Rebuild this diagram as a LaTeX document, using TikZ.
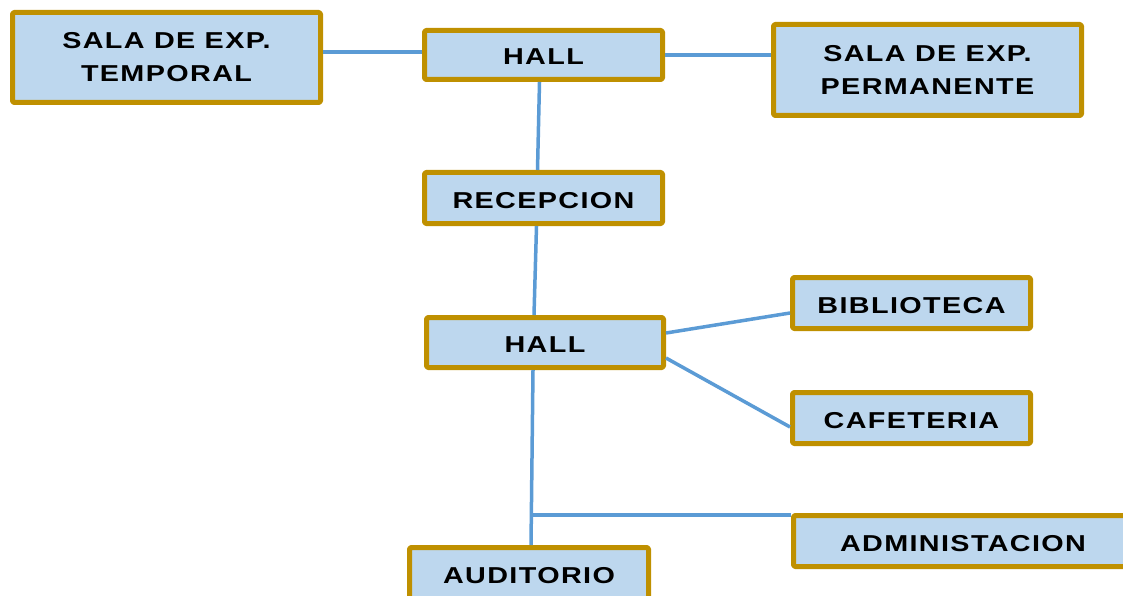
\documentclass[tikz,border=0pt]{standalone}
\usepackage{fontspec}
\newfontfamily\roomfont[FakeStretch=1.25,LetterSpace=6]{Liberation Sans}
\definecolor{roomfill}{HTML}{BDD7EE}
\definecolor{roomedge}{HTML}{BF9000}
\definecolor{linkblue}{HTML}{5B9BD5}
\tikzset{
  room/.style={draw=roomedge,fill=roomfill,line width=5pt,rounded corners=1.5pt,
    inner sep=0pt,align=center,text=black,
    font=\roomfont\bfseries\fontsize{23}{33}\selectfont},
  oneline/.style={room,text height=20pt,text depth=0pt},
  link/.style={draw=linkblue,line width=3.5pt}
}
\begin{document}
\begin{tikzpicture}[x=1pt,y=-1pt,line cap=butt,line join=round]
\useasboundingbox (0,0) rectangle (1123,596);

% rooms
\node[room,minimum width=308pt,minimum height=90pt] (temporal) at (166.5,57.5) {SALA DE EXP.\\TEMPORAL};
\node[oneline,minimum width=238pt,minimum height=49pt] (hallA) at (543.5,55) {HALL};
\node[room,minimum width=308pt,minimum height=91pt] (permanente) at (927.5,70) {SALA DE EXP.\\PERMANENTE};
\node[oneline,minimum width=238pt,minimum height=51pt] (recepcion) at (543.5,198) {RECEPCION};
\node[oneline,minimum width=237pt,minimum height=50pt] (hallB) at (545,342.5) {HALL};
\node[oneline,minimum width=238pt,minimum height=51pt] (biblioteca) at (911.5,303) {BIBLIOTECA};
\node[oneline,minimum width=238pt,minimum height=51pt] (cafeteria) at (911.5,418) {CAFETERIA};
\node[oneline,minimum width=339pt,minimum height=51pt] (admin) at (963,541) {ADMINISTACION};
\node[oneline,minimum width=239pt,minimum height=51pt] (auditorio) at (529,573) {AUDITORIO};

% connections
\draw[link] ([yshift=3pt]temporal.east |- hallA.west) -- ([yshift=3pt]hallA.west);
\draw[link] (hallA.east) -- (permanente.west |- hallA.east);
\draw[link] ([xshift=-4pt]hallA.south) -- ([xshift=-6pt]recepcion.north);
\draw[link] ([xshift=-7pt]recepcion.south) -- ([xshift=-11pt]hallB.north);
\draw[link] ([yshift=9.5pt]hallB.east) -- ([yshift=-10pt]biblioteca.west);
\draw[link] ([yshift=-15.5pt]hallB.east) -- ([yshift=-9pt]cafeteria.west);
\draw[link] ([xshift=-12pt]hallB.south) -- ([xshift=2pt]auditorio.north);

% branch to the administration
\coordinate (branch) at (532,515);
\draw[link] (branch) -- (admin.north west |- branch);

\end{tikzpicture}
\end{document}
